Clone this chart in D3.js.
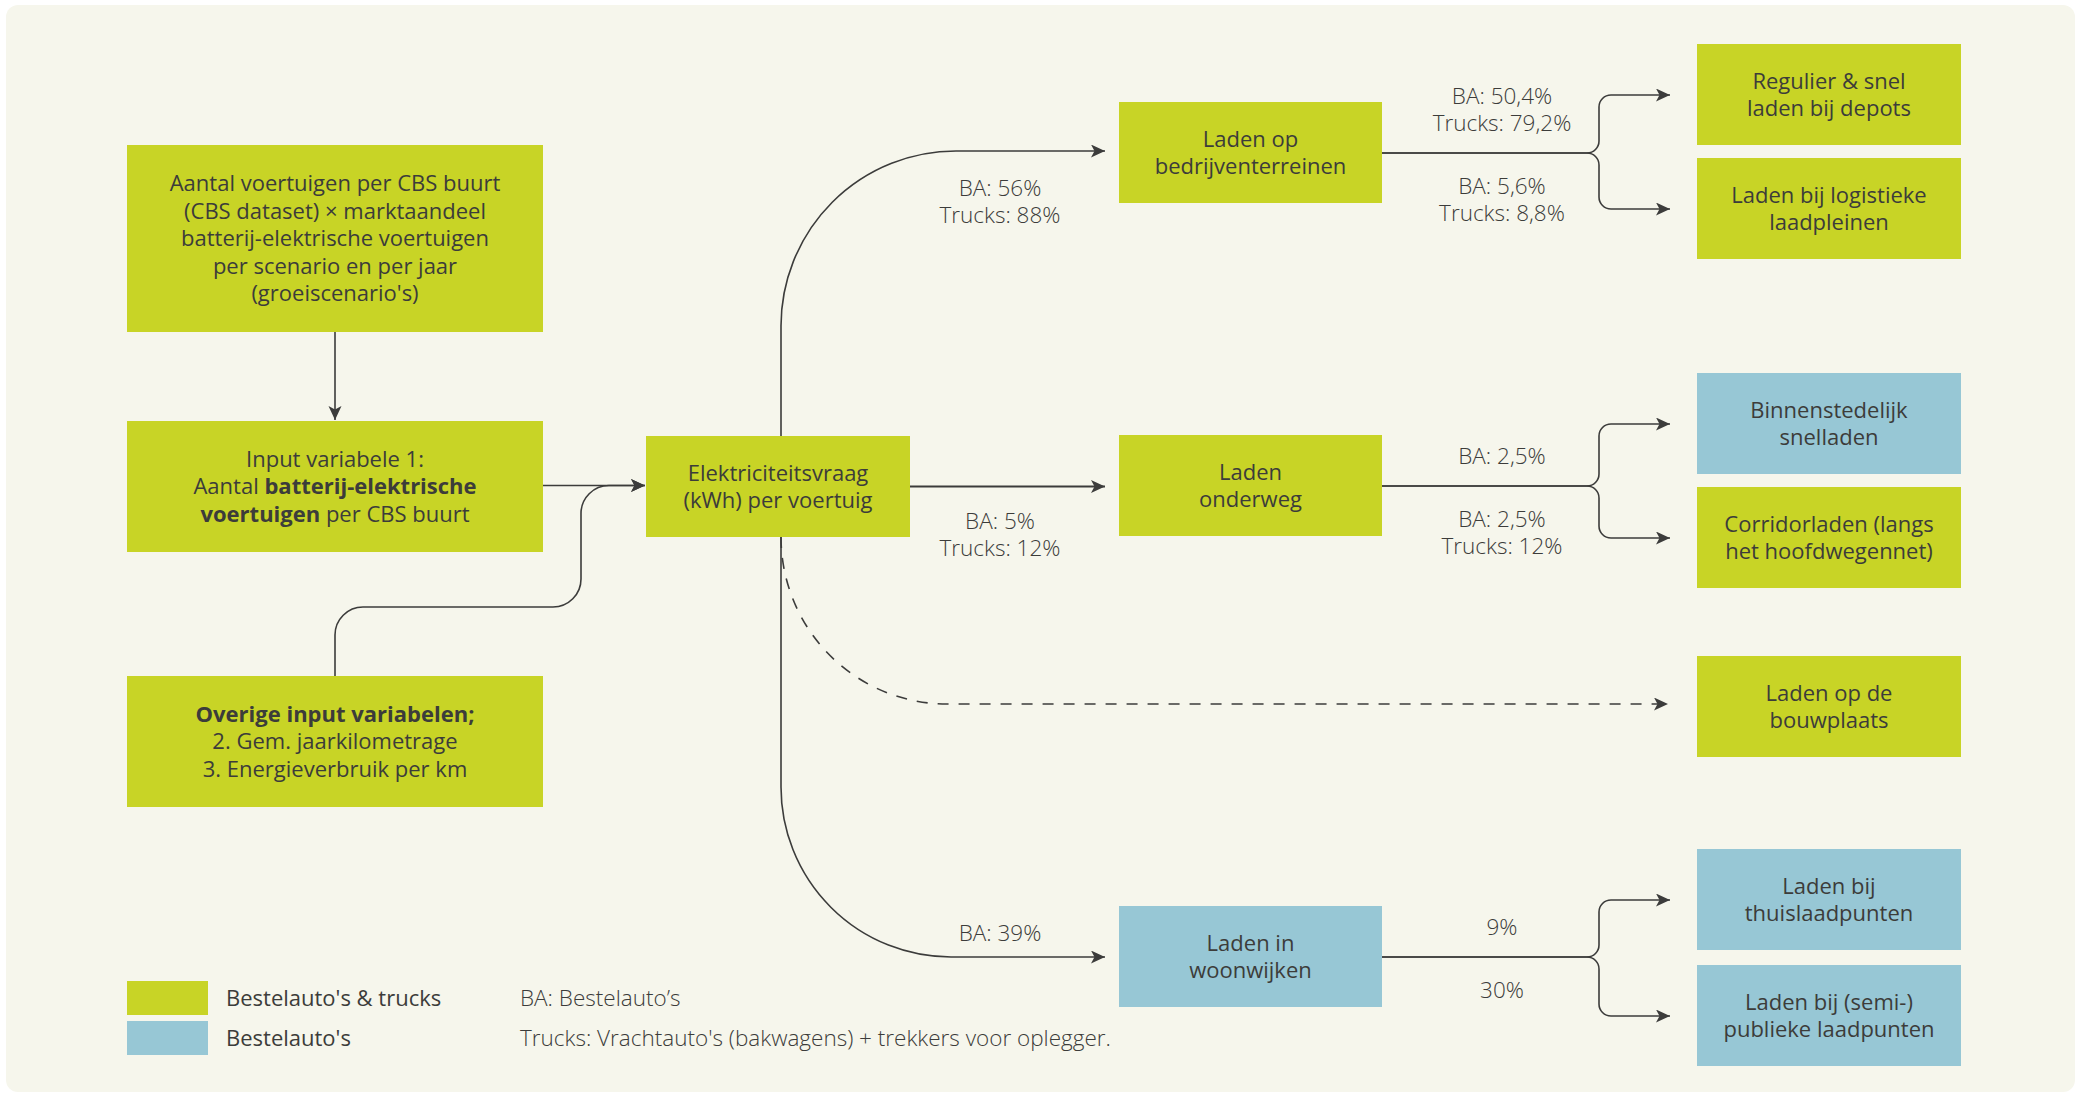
<!DOCTYPE html>
<html>
<head>
<meta charset="utf-8">
<script src="https://cdn.jsdelivr.net/npm/d3@7"></script>
<style>
  html, body { margin: 0; padding: 0; background: #ffffff; }
  svg { display: block; }
  text { font-family: 'Open Sans', 'Noto Sans', sans-serif; fill: #3c3c3a; }
</style>
</head>
<body>
<div id="chart"></div>
<script>
// ---- data ----
const inputNodes = [
  { id: 'aantal', cat: 'both', lines: ['Aantal voertuigen per CBS buurt', '(CBS dataset) × marktaandeel', 'batterij-elektrische voertuigen', 'per scenario en per jaar', "(groeiscenario's)"] },
  { id: 'input1', cat: 'both', lines: ['Input variabele 1:', 'Aantal **batterij-elektrische**', '**voertuigen** per CBS buurt'] },
  { id: 'overig', cat: 'both', lines: ['**Overige input variabelen;**', '2. Gem. jaarkilometrage', '3. Energieverbruik per km'] }
]
const demandNode = { id: 'vraag', cat: 'both', lines: ['Elektriciteitsvraag', '(kWh) per voertuig'] }
const locationNodes = [
  { id: 'bedrijf', cat: 'both', lines: ['Laden op', 'bedrijventerreinen'] },
  { id: 'onderweg', cat: 'both', lines: ['Laden', 'onderweg'] },
  { id: 'woonwijk', cat: 'ba', lines: ['Laden in', 'woonwijken'] }
]
const chargeNodes = [
  { id: 'depot', cat: 'both', lines: ['Regulier & snel', 'laden bij depots'] },
  { id: 'logistiek', cat: 'both', lines: ['Laden bij logistieke', 'laadpleinen'] },
  { id: 'binnenstad', cat: 'ba', lines: ['Binnenstedelijk', 'snelladen'] },
  { id: 'corridor', cat: 'both', lines: ['Corridorladen (langs', 'het hoofdwegennet)'] },
  { id: 'bouw', cat: 'both', lines: ['Laden op de', 'bouwplaats'] },
  { id: 'thuis', cat: 'ba', lines: ['Laden bij', 'thuislaadpunten'] },
  { id: 'publiek', cat: 'ba', lines: ['Laden bij (semi-)', 'publieke laadpunten'] }
]
// shares from electricity demand to charging location
const mainSplits = [
  { to: 'bedrijf', shares: ['BA: 56%', 'Trucks: 88%'] },
  { to: 'onderweg', shares: ['BA: 5%', 'Trucks: 12%'] },
  { to: 'bouw', shares: [], dashed: true },
  { to: 'woonwijk', shares: ['BA: 39%'] }
]
const subSplits = [
  { from: 'bedrijf', to: 'depot', shares: ['BA: 50,4%', 'Trucks: 79,2%'] },
  { from: 'bedrijf', to: 'logistiek', shares: ['BA: 5,6%', 'Trucks: 8,8%'] },
  { from: 'onderweg', to: 'binnenstad', shares: ['BA: 2,5%'] },
  { from: 'onderweg', to: 'corridor', shares: ['BA: 2,5%', 'Trucks: 12%'] },
  { from: 'woonwijk', to: 'thuis', shares: ['9%'] },
  { from: 'woonwijk', to: 'publiek', shares: ['30%'] }
]
const legendItems = [
  { cat: 'both', label: "Bestelauto's & trucks" },
  { cat: 'ba', label: "Bestelauto's" }
]
const notes = ['BA: Bestelauto’s', "Trucks: Vrachtauto's (bakwagens) + trekkers voor oplegger."]

// ---- layout ----
const width = 2081
const height = 1097
const colors = { both: '#c8d426', ba: '#97c7d5' }
const ink = '#3c3c3b'
const boxFont = 22
const labelFont = 22.5
const lineH = 27.5

const cols = {
  input: { x: 127, w: 416 },
  demand: { x: 646, w: 264 },
  location: { x: 1119, w: 263 },
  charge: { x: 1697, w: 264 }
}
const rows = {
  aantal: [145, 187], input1: [421, 131], overig: [676, 131],
  vraag: [436, 101],
  bedrijf: [102, 101], onderweg: [435, 101], woonwijk: [906, 101],
  depot: [44, 101], logistiek: [158, 101], binnenstad: [373, 101], corridor: [487, 101],
  bouw: [656, 101], thuis: [849, 101], publiek: [965, 101]
}

const boxes = {}
const place = (nodes, col) => nodes.forEach((n) => {
  const [y, h] = rows[n.id]
  boxes[n.id] = { ...n, x: col.x, y, w: col.w, h, cx: col.x + col.w / 2, cy: y + h / 2 }
})
place(inputNodes, cols.input)
place([demandNode], cols.demand)
place(locationNodes, cols.location)
place(chargeNodes, cols.charge)

const svg = d3.select('#chart').append('svg')
  .attr('width', width).attr('height', height)

svg.append('rect')
  .attr('x', 6).attr('y', 5).attr('width', 2069).attr('height', 1087)
  .attr('rx', 12).attr('fill', '#f6f6ec')

svg.append('defs').append('marker')
  .attr('id', 'arrow')
  .attr('markerUnits', 'userSpaceOnUse')
  .attr('markerWidth', 16).attr('markerHeight', 14)
  .attr('refX', 14).attr('refY', 6.5)
  .attr('orient', 'auto')
  .append('path')
  .attr('d', 'M0,0L14,6.5L0,13L3.5,6.5Z')
  .attr('fill', ink)

// text with **bold** segments
const drawLines = (g, lines, cx, cy, step, size, weight) => {
  const t = g.append('text')
    .attr('text-anchor', 'middle')
    .style('font-size', size + 'px')
    .style('font-weight', weight)
  lines.forEach((line, i) => {
    const y = cy + (i - (lines.length - 1) / 2) * step
    line.split('**').forEach((seg, j) => {
      if (!seg) return
      const ts = t.append('tspan').text(seg)
      if (j % 2 === 1) ts.style('font-weight', 700)
      if (j === 0 || (j === 1 && line.startsWith('**'))) {
        ts.attr('x', cx).attr('y', y).attr('dy', '0.36em')
      }
    })
  })
}

// ---- boxes ----
const nodeG = svg.append('g')
Object.values(boxes).forEach((b) => {
  const g = nodeG.append('g')
  g.append('rect')
    .attr('x', b.x).attr('y', b.y).attr('width', b.w).attr('height', b.h)
    .attr('fill', colors[b.cat])
  drawLines(g, b.lines, b.cx, b.cy, lineH, boxFont, 400)
})

// ---- edges ----
const edgeG = svg.append('g').attr('fill', 'none').attr('stroke', ink)
const A = boxes.aantal, B = boxes.input1, C = boxes.overig, E = boxes.vraag
const r0 = 28
const joinY = E.cy - 1
const inputPaths = [
  `M${A.cx},${A.y + A.h}V${B.y - 1}`,
  `M${B.x + B.w},${joinY}H${E.x - 1}`,
  `M${C.cx},${C.y}V${607 + r0}A${r0},${r0} 0 0 1 ${C.cx + r0},607H${581 - r0}` +
    `A${r0},${r0} 0 0 0 581,${607 - r0}V${joinY + r0}A${r0},${r0} 0 0 1 ${581 + r0},${joinY}H${E.x - 1}`
]
edgeG.selectAll('.in').data(inputPaths).join('path')
  .attr('class', 'in')
  .attr('d', (d) => d)
  .attr('stroke-width', 1.6)
  .attr('marker-end', 'url(#arrow)')

const trunkX = 781
const tipMain = 1105
const mainPath = (s) => {
  const t = boxes[s.to]
  const y = Math.round(t.cy)
  if (s.to === 'onderweg') return `M${E.x + E.w},${E.cy}H${tipMain}`
  if (s.dashed) {
    const ry = y - 3 - (E.y + E.h)
    return `M${trunkX},${E.y + E.h}A166,${ry} 0 0 0 ${trunkX + 166},${y - 3}H${t.x - 29}`
  }
  if (t.cy < E.cy) {
    const r = 175
    return `M${trunkX},${E.y}V${y - 2 + r}A${r},${r} 0 0 1 ${trunkX + r},${y - 2}H${tipMain}`
  }
  const r = 170
  return `M${trunkX},${E.y + E.h}V${y - r}A${r},${r} 0 0 0 ${trunkX + r},${y}H${tipMain}`
}
edgeG.selectAll('.main').data(mainSplits).join('path')
  .attr('class', 'main')
  .attr('d', mainPath)
  .attr('stroke-width', (d) => (d.to === 'onderweg' ? 2 : 1.6))
  .attr('stroke-dasharray', (d) => (d.dashed ? '11,10' : null))
  .attr('marker-end', 'url(#arrow)')

// braces to the charging points
const jx = 1587, rb = 12, tipSub = 1670
const bracePath = (s) => {
  const f = boxes[s.from], t = boxes[s.to]
  const y0 = Math.round(f.cy), y1 = Math.round(t.cy)
  const up = y1 < y0
  const sg = up ? -1 : 1
  return `M${jx},${y0}A${rb},${rb} 0 0 ${up ? 0 : 1} ${jx + rb},${y0 + sg * rb}` +
    `V${y1 - sg * rb}A${rb},${rb} 0 0 ${up ? 1 : 0} ${jx + 2 * rb},${y1}H${tipSub}`
}
edgeG.selectAll('.trunk').data(locationNodes).join('path')
  .attr('class', 'trunk')
  .attr('d', (d) => `M${boxes[d.id].x + boxes[d.id].w},${Math.round(boxes[d.id].cy)}H${jx}`)
  .attr('stroke', '#4a4a48')
  .attr('stroke-width', 2.2)
edgeG.selectAll('.brace').data(subSplits).join('path')
  .attr('class', 'brace')
  .attr('d', bracePath)
  .attr('stroke-width', 1.6)
  .attr('marker-end', 'url(#arrow)')

// ---- share labels ----
const labelG = svg.append('g')
const step = 27
mainSplits.filter((s) => s.shares.length).forEach((s) => {
  const t = boxes[s.to]
  const n = s.shares.length
  const cy = t.cy > E.cy + 10
    ? t.cy - 24 - (n - 1) * step / 2
    : t.cy + 35 + (n - 1) * step / 2
  drawLines(labelG, s.shares, 1000, cy, step, labelFont, 300)
})
subSplits.forEach((s) => {
  const f = boxes[s.from], t = boxes[s.to]
  const n = s.shares.length
  const cy = t.cy < f.cy
    ? f.cy - 30 - (n - 1) * step / 2
    : f.cy + 33 + (n - 1) * step / 2
  drawLines(labelG, s.shares, 1502, cy, step, labelFont, 300)
})

// ---- legend ----
const legendG = svg.append('g')
legendItems.forEach((d, i) => {
  const y = 981 + i * 40
  legendG.append('rect')
    .attr('x', 127).attr('y', y).attr('width', 81).attr('height', 34)
    .attr('fill', colors[d.cat])
  legendG.append('text')
    .attr('x', 226).attr('y', y + 17).attr('dy', '0.36em')
    .style('font-size', boxFont + 'px')
    .text(d.label)
})
notes.forEach((d, i) => {
  legendG.append('text')
    .attr('x', 520).attr('y', 998 + i * 40).attr('dy', '0.36em')
    .style('font-size', labelFont + 'px')
    .style('font-weight', 300)
    .text(d)
})
</script>
</body>
</html>
